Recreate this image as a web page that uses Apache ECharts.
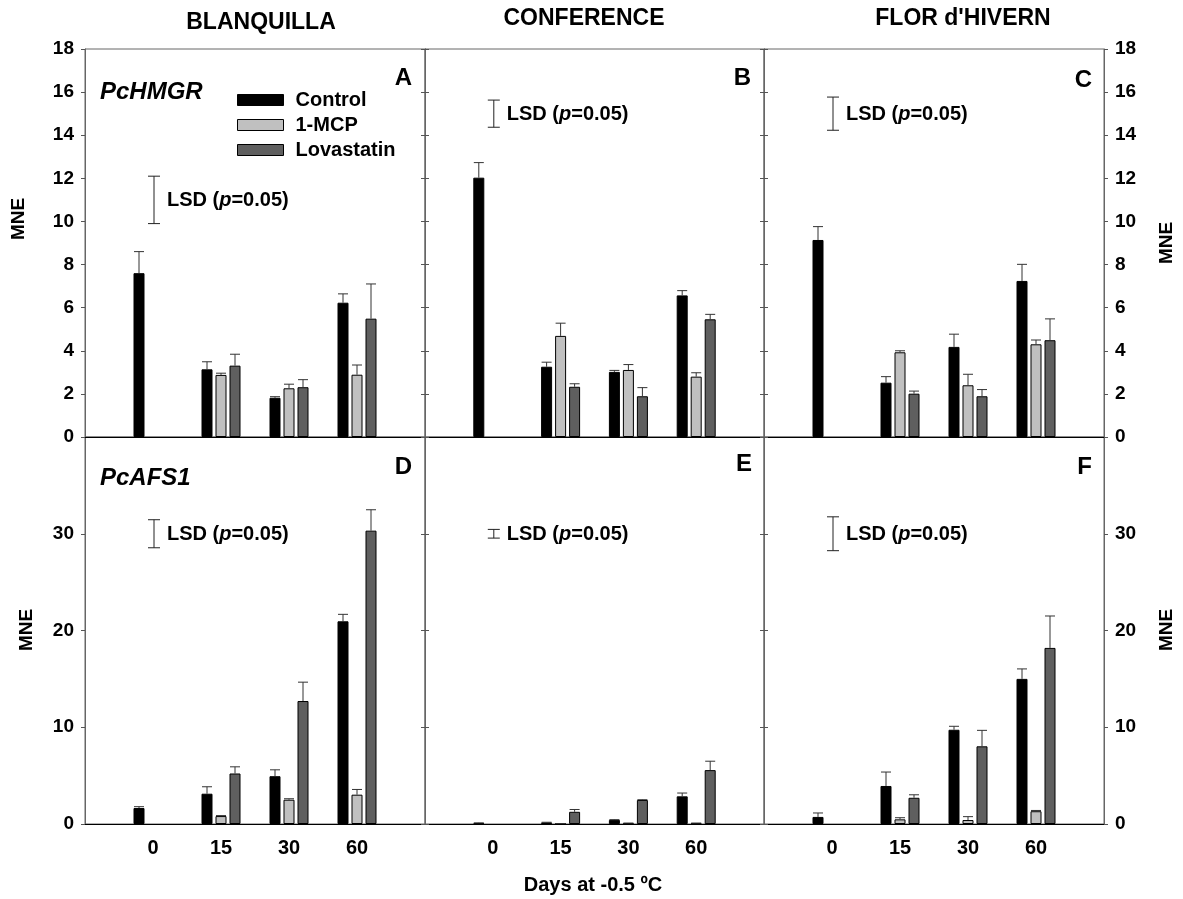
<!DOCTYPE html>
<html><head><meta charset="utf-8">
<script src="https://cdn.jsdelivr.net/npm/echarts@6.0.0/dist/echarts.min.js"></script>
<style>html,body{margin:0;padding:0;background:#fff}#chart{width:1183px;height:899px}</style>
</head><body><div id="chart"></div>
<script>
// ---------- data ----------
const days = ['0', '15', '30', '60'];
const cultivars = ['BLANQUILLA', 'CONFERENCE', "FLOR d'HIVERN"];
const genes = ['PcHMGR', 'PcAFS1'];
const panelLetters = ['A', 'B', 'C', 'D', 'E', 'F'];
const treatments = ['Control', '1-MCP', 'Lovastatin'];
const yMaxTop = 18, yStepTop = 2;
const yMaxBottom = 40, yStepBottom = 10;

// PcHMGR – Blanquilla (A)
const A_control = [7.6, 3.14, 1.82, 6.23];
const A_controlErr = [1.0, 0.35, 0.05, 0.41];
const A_mcp = [null, 2.88, 2.26, 2.89];
const A_mcpErr = [null, 0.08, 0.19, 0.45];
const A_lova = [null, 3.31, 2.31, 5.49];
const A_lovaErr = [null, 0.53, 0.35, 1.61];
const A_lsd = [11.0, 1.1];
// PcHMGR – Conference (B)
const B_control = [12.03, 3.26, 3.02, 6.57];
const B_controlErr = [0.70, 0.21, 0.07, 0.22];
const B_mcp = [null, 4.69, 3.11, 2.80];
const B_mcpErr = [null, 0.59, 0.25, 0.18];
const B_lova = [null, 2.33, 1.89, 5.46];
const B_lovaErr = [null, 0.14, 0.40, 0.23];
const B_lsd = [15.0, 0.63];
// PcHMGR – Flor d'Hivern (C)
const C_control = [9.14, 2.52, 4.18, 7.24];
const C_controlErr = [0.62, 0.28, 0.59, 0.77];
const C_mcp = [null, 3.93, 2.40, 4.30];
const C_mcpErr = [null, 0.07, 0.51, 0.20];
const C_lova = [null, 2.01, 1.89, 4.49];
const C_lovaErr = [null, 0.12, 0.31, 0.99];
const C_lsd = [15.0, 0.77];
// PcAFS1 – Blanquilla (D)
const D_control = [1.65, 3.13, 4.94, 20.95];
const D_controlErr = [0.14, 0.72, 0.66, 0.72];
const D_mcp = [null, 0.82, 2.51, 3.03];
const D_mcpErr = [null, 0.05, 0.10, 0.54];
const D_lova = [null, 5.22, 12.71, 30.32];
const D_lovaErr = [null, 0.69, 1.95, 2.16];
const D_lsd = [30.0, 1.45];
// PcAFS1 – Conference (E)
const E_control = [0.10, 0.16, 0.42, 2.86];
const E_controlErr = [0.02, 0.02, 0.03, 0.34];
const E_mcp = [null, 0.05, 0.10, 0.10];
const E_mcpErr = [null, 0, 0, 0];
const E_lova = [null, 1.26, 2.48, 5.57];
const E_lovaErr = [null, 0.24, 0.03, 0.92];
const E_lsd = [30.0, 0.45];
// PcAFS1 – Flor d'Hivern (F)
const F_control = [0.73, 3.93, 9.74, 15.0];
const F_controlErr = [0.41, 1.44, 0.36, 1.03];
const F_mcp = [null, 0.48, 0.41, 1.32];
const F_mcpErr = [null, 0.17, 0.35, 0.08];
const F_lova = [null, 2.71, 8.03, 18.2];
const F_lovaErr = [null, 0.31, 1.65, 3.3];
const F_lsd = [30.0, 1.75];

// ---------- build ----------
const panels = [
  { vals: [A_control, A_mcp, A_lova], errs: [A_controlErr, A_mcpErr, A_lovaErr], lsd: A_lsd },
  { vals: [B_control, B_mcp, B_lova], errs: [B_controlErr, B_mcpErr, B_lovaErr], lsd: B_lsd },
  { vals: [C_control, C_mcp, C_lova], errs: [C_controlErr, C_mcpErr, C_lovaErr], lsd: C_lsd },
  { vals: [D_control, D_mcp, D_lova], errs: [D_controlErr, D_mcpErr, D_lovaErr], lsd: D_lsd },
  { vals: [E_control, E_mcp, E_lova], errs: [E_controlErr, E_mcpErr, E_lovaErr], lsd: E_lsd },
  { vals: [F_control, F_mcp, F_lova], errs: [F_controlErr, F_mcpErr, F_lovaErr], lsd: F_lsd }
];
const FONT = "'Liberation Sans', Arial, Helvetica, sans-serif";
const fills = ['#000000', '#c0c0c0', '#5f5f5f'];
const colLeft = [85, 425, 764];
const colWidth = [340, 339, 340];
const rowTop = [49, 437];
const rowHeight = [388, 387];
const categories = [''].concat(days, ['']);
const BAR_W = 11, BAR_STEP = 14;

const grids = [], xAxes = [], yAxes = [], series = [];
for (let g = 0; g < 6; g++) {
  const r = Math.floor(g / 3), c = g % 3;
  grids.push({ left: colLeft[c], top: rowTop[r], width: colWidth[c], height: rowHeight[r],
    show: true, borderColor: '#666', borderWidth: 1, containLabel: false });
  xAxes.push({
    gridIndex: g, type: 'category', data: categories, boundaryGap: false,
    axisLine: { show: true, lineStyle: { color: '#000', width: 1 } },
    axisTick: { show: false }, splitLine: { show: false },
    axisLabel: { show: r === 1, interval: 0, margin: 14, color: '#000', fontSize: 20,
      fontWeight: 'bold', fontFamily: FONT }
  });
  const yMax = r === 0 ? yMaxTop : yMaxBottom;
  const yStep = r === 0 ? yStepTop : yStepBottom;
  const common = {
    gridIndex: g, type: 'value', min: 0, max: yMax, interval: yStep,
    splitLine: { show: false },
    axisLine: { show: true, lineStyle: { color: '#666', width: 1 } },
    axisTick: { show: true, inside: false, length: 4, lineStyle: { color: '#555' } }
  };
  yAxes.push(Object.assign({}, common, { position: 'left',
    axisLabel: { show: c === 0, margin: 11, color: '#000', fontSize: 19, fontWeight: 'bold',
      fontFamily: FONT, showMaxLabel: r === 0 } }));
  yAxes.push(Object.assign({}, common, { position: 'right',
    axisLabel: { show: c === 2, margin: 11, color: '#000', fontSize: 19, fontWeight: 'bold',
      fontFamily: FONT, showMaxLabel: r === 0 } }));

  const p = panels[g];
  for (let s = 0; s < 3; s++) {
    series.push({
      type: 'bar', name: treatments[s], xAxisIndex: g, yAxisIndex: 2 * g,
      data: ['-'].concat(p.vals[s].map(v => v === null ? '-' : v), ['-']),
      barWidth: BAR_W, barGap: ((BAR_STEP - BAR_W) / BAR_W * 100) + '%',
      itemStyle: { color: fills[s], borderColor: '#000', borderWidth: 1 },
      emphasis: { disabled: true }, animation: false
    });
  }
  const errData = [];
  for (let s = 0; s < 3; s++) {
    p.vals[s].forEach((v, i) => {
      if (v !== null && p.errs[s][i] !== null) errData.push([i + 1, s, v, p.errs[s][i]]);
    });
  }
  series.push({
    type: 'custom', xAxisIndex: g, yAxisIndex: 2 * g, data: errData, silent: true,
    animation: false, z: 5,
    renderItem: function (params, api) {
      const base = api.coord([api.value(0), api.value(2)]);
      const top = api.coord([api.value(0), api.value(2) + api.value(3)]);
      const x = base[0] + (api.value(1) - 1) * BAR_STEP;
      const st = { stroke: '#333', lineWidth: 1 };
      return { type: 'group', children: [
        { type: 'line', shape: { x1: x, y1: base[1], x2: x, y2: top[1] }, style: st },
        { type: 'line', shape: { x1: x - 5, y1: top[1], x2: x + 5, y2: top[1] }, style: st }
      ] };
    }
  });
  series.push({
    type: 'custom', xAxisIndex: g, yAxisIndex: 2 * g, data: [[1, p.lsd[0], p.lsd[1]]],
    silent: true, animation: false, z: 5,
    renderItem: function (params, api) {
      const hi = api.coord([api.value(0), api.value(1) + api.value(2)]);
      const lo = api.coord([api.value(0), api.value(1) - api.value(2)]);
      const x = hi[0] + 1;
      const st = { stroke: '#222', lineWidth: 1 };
      return { type: 'group', children: [
        { type: 'line', shape: { x1: x, y1: hi[1], x2: x, y2: lo[1] }, style: st },
        { type: 'line', shape: { x1: x - 6, y1: hi[1], x2: x + 6, y2: hi[1] }, style: st },
        { type: 'line', shape: { x1: x - 6, y1: lo[1], x2: x + 6, y2: lo[1] }, style: st },
        { type: 'text', style: {
          x: x + 13, y: (hi[1] + lo[1]) / 2 + 1,
          text: '{a|LSD (}{b|p}{a|=0.05)}', verticalAlign: 'middle', align: 'left',
          rich: {
            a: { fontSize: 20, fontWeight: 'bold', fontFamily: FONT, fill: '#000' },
            b: { fontSize: 20, fontWeight: 'bold', fontStyle: 'italic', fontFamily: FONT, fill: '#000' }
          } } }
      ] };
    }
  });
}

const txt = (x, y, text, opts) => Object.assign({
  type: 'text', x: x, y: y, silent: true,
  style: Object.assign({ text: text, fill: '#000', fontFamily: FONT, fontWeight: 'bold',
    fontSize: 19, align: 'center', verticalAlign: 'middle' }, (opts && opts.style) || {})
}, (opts && opts.el) || {});

const graphics = [
  txt(261, 23, cultivars[0], { style: { fontSize: 23 } }),
  txt(584, 19, cultivars[1], { style: { fontSize: 23 } }),
  txt(963, 19, cultivars[2], { style: { fontSize: 23 } }),
  txt(412, 78, panelLetters[0], { style: { fontSize: 24, align: 'right' } }),
  txt(751, 78, panelLetters[1], { style: { fontSize: 24, align: 'right' } }),
  txt(1092, 80, panelLetters[2], { style: { fontSize: 24, align: 'right' } }),
  txt(412, 467, panelLetters[3], { style: { fontSize: 24, align: 'right' } }),
  txt(752, 464, panelLetters[4], { style: { fontSize: 24, align: 'right' } }),
  txt(1092, 467, panelLetters[5], { style: { fontSize: 24, align: 'right' } }),
  txt(100, 92, genes[0], { style: { fontSize: 24, fontStyle: 'italic', align: 'left' } }),
  txt(100, 478, genes[1], { style: { fontSize: 24, fontStyle: 'italic', align: 'left' } }),
  txt(19, 219, 'MNE', { el: { rotation: Math.PI / 2 } }),
  txt(27, 630, 'MNE', { el: { rotation: Math.PI / 2 } }),
  txt(1167, 243, 'MNE', { el: { rotation: Math.PI / 2 } }),
  txt(1167, 630, 'MNE', { el: { rotation: Math.PI / 2 } }),
  txt(593, 885, 'Days at -0.5 ºC', { style: { fontSize: 20 } })
];

const chart = echarts.init(document.getElementById('chart'), null, { renderer: 'canvas' });
chart.setOption({
  backgroundColor: '#fff',
  animation: false,
  grid: grids, xAxis: xAxes, yAxis: yAxes, series: series,
  legend: {
    data: treatments, orient: 'vertical', left: 237, top: 90, padding: 0,
    itemWidth: 46, itemHeight: 11, itemGap: 5, icon: 'rect', selectedMode: false,
    itemStyle: { borderColor: '#000', borderWidth: 1 },
    textStyle: { fontSize: 20, fontWeight: 'bold', fontFamily: FONT, color: '#000',
      lineHeight: 19, padding: [0, 0, 0, 7] }
  },
  graphic: graphics
});
</script></body></html>
